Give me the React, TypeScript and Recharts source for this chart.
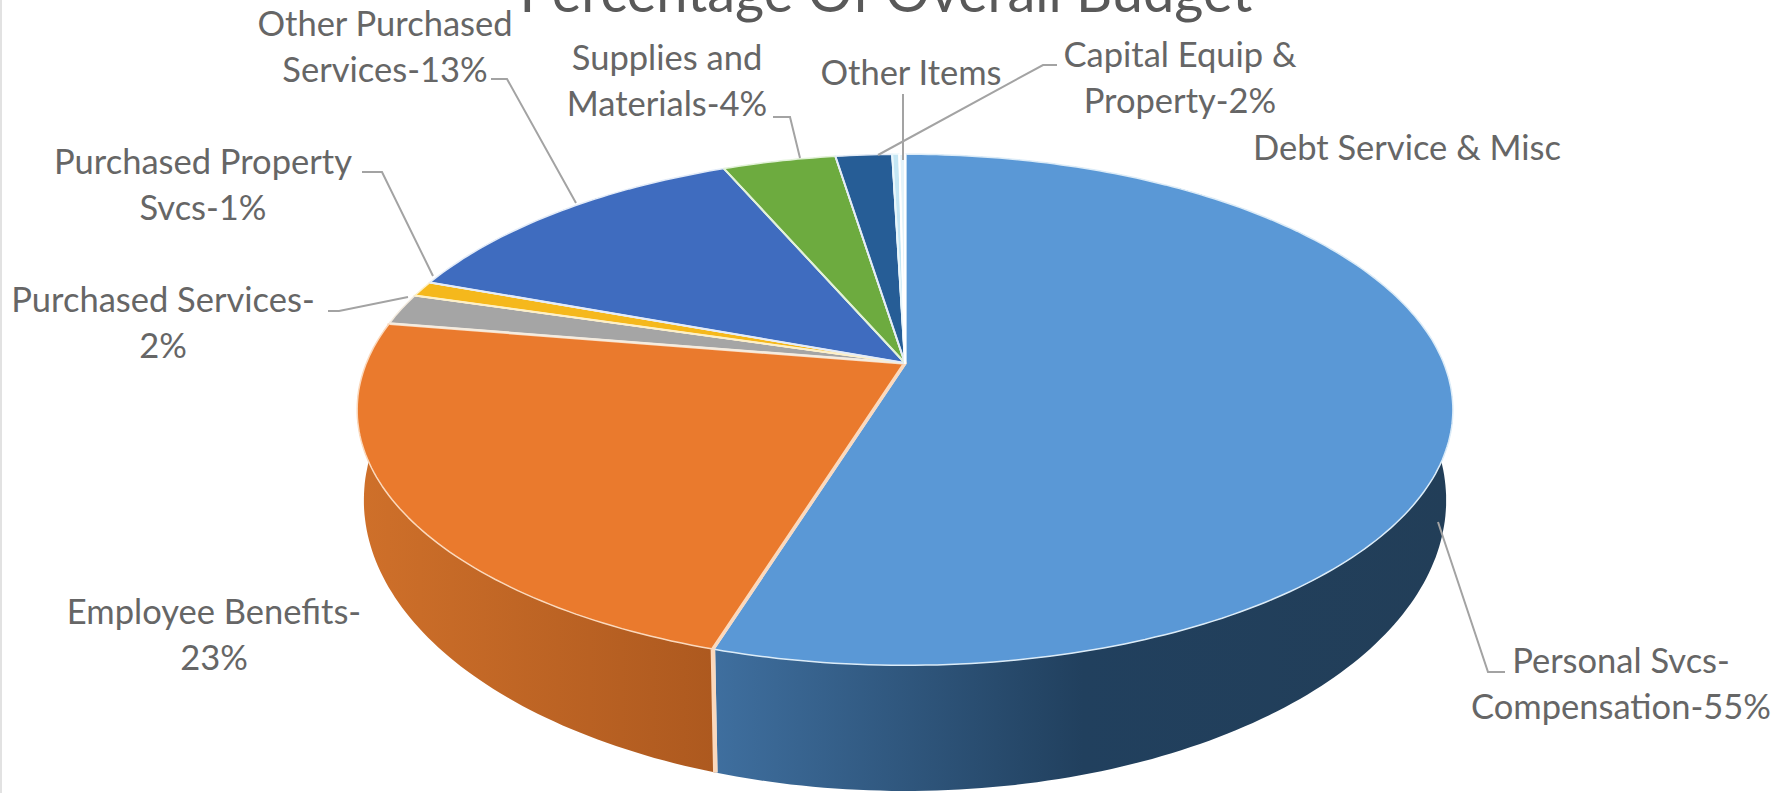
import { PieChart, Pie } from "recharts";

const CATEGORIES = [
  "Personal Svcs-Compensation",
  "Employee Benefits",
  "Purchased Services",
  "Purchased Property Svcs",
  "Other Purchased Services",
  "Supplies and Materials",
  "Capital Equip & Property",
  "Other Items",
  "Debt Service & Misc",
];
const SHARES = [55, 23, 2, 1, 13, 4, 2, 0.25, 0.2];

const TOP_COLORS = ["#5a98d6", "#ea7a2d", "#a5a5a5", "#f5b81c", "#3f6cbf", "#6dab3f", "#265d96", "#c4e6f4", "#e4f3fa"];
const SEAM_COLORS = ["#dcecf8", "#fbd9bd", "#f4ece0", "#fdf0c8", "#e4ecf8", "#e2f2d8", "#e4ecf6", "#e8f6fb", "#ffffff"];
const SEAM_WIDTHS = [3.5, 3.5, 2, 2, 2, 2, 2, 2, 2];
const WALL_FILLS = ["url(#wallBlue)", "url(#wallOrange)", "#7d7d7d", "#bf8f00", "#2f528f", "#548235", "#1c466e", "#8ab", "#cde"];

const LABEL_LINES = [
  ["Personal Svcs-", "Compensation-55%"],
  ["Employee Benefits-", "23%"],
  ["Purchased Services-", "2%"],
  ["Purchased Property", "Svcs-1%"],
  ["Other Purchased", "Services-13%"],
  ["Supplies and", "Materials-4%"],
  ["Capital Equip &", "Property-2%"],
  ["Other Items"],
  ["Debt Service & Misc"],
];

// where each label sits: centre x, first baseline y
const LABEL_ANCHORS = [
  [1621, 673],
  [214, 624],
  [163, 312],
  [203, 174],
  [385, 36],
  [667, 70],
  [1180, 67],
  [911, 85],
  [1407, 160],
];

// callout polylines, from the text to the slice
const LEADERS: number[][][] = [
  [[1505, 672], [1488, 672], [1438, 522]],
  [],
  [[328, 311], [339, 311], [408, 297]],
  [[362, 172], [382, 172], [433, 276]],
  [[491, 79], [507, 79], [576, 203]],
  [[773, 117], [790, 117], [800, 158]],
  [[1057, 65], [1043, 65], [878, 155]],
  [[903, 94], [903, 160]],
  [],
];

const rows = CATEGORIES.map((name, i) => ({
  name,
  value: SHARES[i],
  fill: TOP_COLORS[i],
  seam: SEAM_COLORS[i],
  seamWidth: SEAM_WIDTHS[i],
  wall: WALL_FILLS[i],
}));

const RAD = Math.PI / 180;
const PIE_X = 905;
const PIE_Y = 363;
const RADIUS = 400;
const TAPER = 0.183; // how much the far side of the disc shrinks

// top and base discs of the solid, as projected ellipses
const TOP_DISC = { sx: 538.6 / RADIUS, sy: 247 / RADIUS, dy: 0 };
const BASE_DISC = { sx: 532 / RADIUS, sy: 281 / RADIUS, dy: 84 };

type Disc = typeof TOP_DISC;

function project(disc: Disc, cx: number, cy: number, r: number, deg: number) {
  const u = Math.cos(deg * RAD);
  const v = -Math.sin(deg * RAD);
  const w = 1 - TAPER * v;
  return [cx + (u * r * disc.sx) / w, cy + disc.dy + (v * r * disc.sy) / w];
}

function arcPoints(disc: Disc, cx: number, cy: number, r: number, from: number, to: number) {
  const steps = Math.max(2, Math.ceil(Math.abs(to - from)));
  const pts: number[][] = [];
  for (let i = 0; i <= steps; i++) {
    pts.push(project(disc, cx, cy, r, from + ((to - from) * i) / steps));
  }
  return pts;
}

const toPoints = (pts: number[][]) => pts.map((p) => p[0].toFixed(1) + " " + p[1].toFixed(1)).join("L");
const toPath = (pts: number[][]) => "M" + toPoints(pts) + "Z";

function TopFace(props: any) {
  const { cx, cy, outerRadius, startAngle, endAngle, fill, seam, seamWidth } = props;
  const arc = arcPoints(TOP_DISC, cx, cy, outerRadius, startAngle, endAngle);
  const spokes = [arc[arc.length - 1], [cx, cy], arc[0]];
  return (
    <g>
      <path d={toPath([[cx, cy], ...arc])} fill={fill} stroke={seam} strokeWidth={1.5} strokeLinejoin="round" />
      {/* the wider seams run along the radial edges only */}
      <path d={"M" + toPoints(spokes)} fill="none" stroke={seam} strokeWidth={seamWidth} strokeLinejoin="round" />
    </g>
  );
}

function SideWall(props: any) {
  const { cx, cy, outerRadius, startAngle, endAngle, wall, seam, seamWidth } = props;
  const upper = arcPoints(TOP_DISC, cx, cy, outerRadius, startAngle, endAngle);
  const lower = arcPoints(BASE_DISC, cx, cy, outerRadius, endAngle, startAngle);
  const ends = [upper[0], lower[lower.length - 1]];
  const tail = [upper[upper.length - 1], lower[0]];
  return (
    <g>
      <path d={toPath([...upper, ...lower])} fill={wall} />
      <path d={"M" + toPoints(ends) + "M" + toPoints(tail)} fill="none" stroke={seam} strokeWidth={seamWidth + 1} />
    </g>
  );
}

function CalloutLabel(props: any) {
  const i = props.index;
  const [x, y] = LABEL_ANCHORS[i];
  return (
    <g>
      {LEADERS[i].length > 0 && (
        <polyline
          points={LEADERS[i].map((p) => p.join(",")).join(" ")}
          fill="none"
          stroke="#a3a3a3"
          strokeWidth={2}
        />
      )}
      <text x={x} y={y} textAnchor="middle" fontFamily="Lato, sans-serif" fontSize={34.5} fill="#666666">
        {LABEL_LINES[i].map((line, n) => (
          <tspan key={n} x={x} dy={n === 0 ? 0 : 46}>
            {line}
          </tspan>
        ))}
      </text>
    </g>
  );
}

export default function App() {
  return (
    <div style={{ position: "absolute", left: 0, top: 0, width: 1789, height: 793, background: "#fff", boxShadow: "inset 2px 0 0 #e2e2e2" }}>
      <PieChart width={1789} height={793} margin={{ top: 0, right: 0, bottom: 0, left: 0 }}>
        <defs>
          <linearGradient id="wallBlue" x1="0" y1="0" x2="1" y2="0">
            <stop offset="0" stopColor="#3f6f9f" />
            <stop offset="0.5" stopColor="#21405e" />
            <stop offset="1" stopColor="#223e58" />
          </linearGradient>
          <linearGradient id="wallOrange" x1="0" y1="0" x2="1" y2="0">
            <stop offset="0" stopColor="#cf702a" />
            <stop offset="1" stopColor="#ad591f" />
          </linearGradient>
        </defs>
        <Pie
          data={rows}
          dataKey="value"
          cx={PIE_X}
          cy={PIE_Y}
          outerRadius={RADIUS}
          startAngle={90}
          endAngle={-270}
          shape={SideWall}
          label={false}
          labelLine={false}
          isAnimationActive={false}
        />
        <Pie
          data={rows}
          dataKey="value"
          cx={PIE_X}
          cy={PIE_Y}
          outerRadius={RADIUS}
          startAngle={90}
          endAngle={-270}
          shape={TopFace}
          label={CalloutLabel}
          labelLine={false}
          isAnimationActive={false}
        />
        <text x={886} y={12} textAnchor="middle" fontFamily="Lato, sans-serif" fontSize={56} fill="#595959">
          Percentage Of Overall Budget
        </text>
      </PieChart>
    </div>
  );
}
